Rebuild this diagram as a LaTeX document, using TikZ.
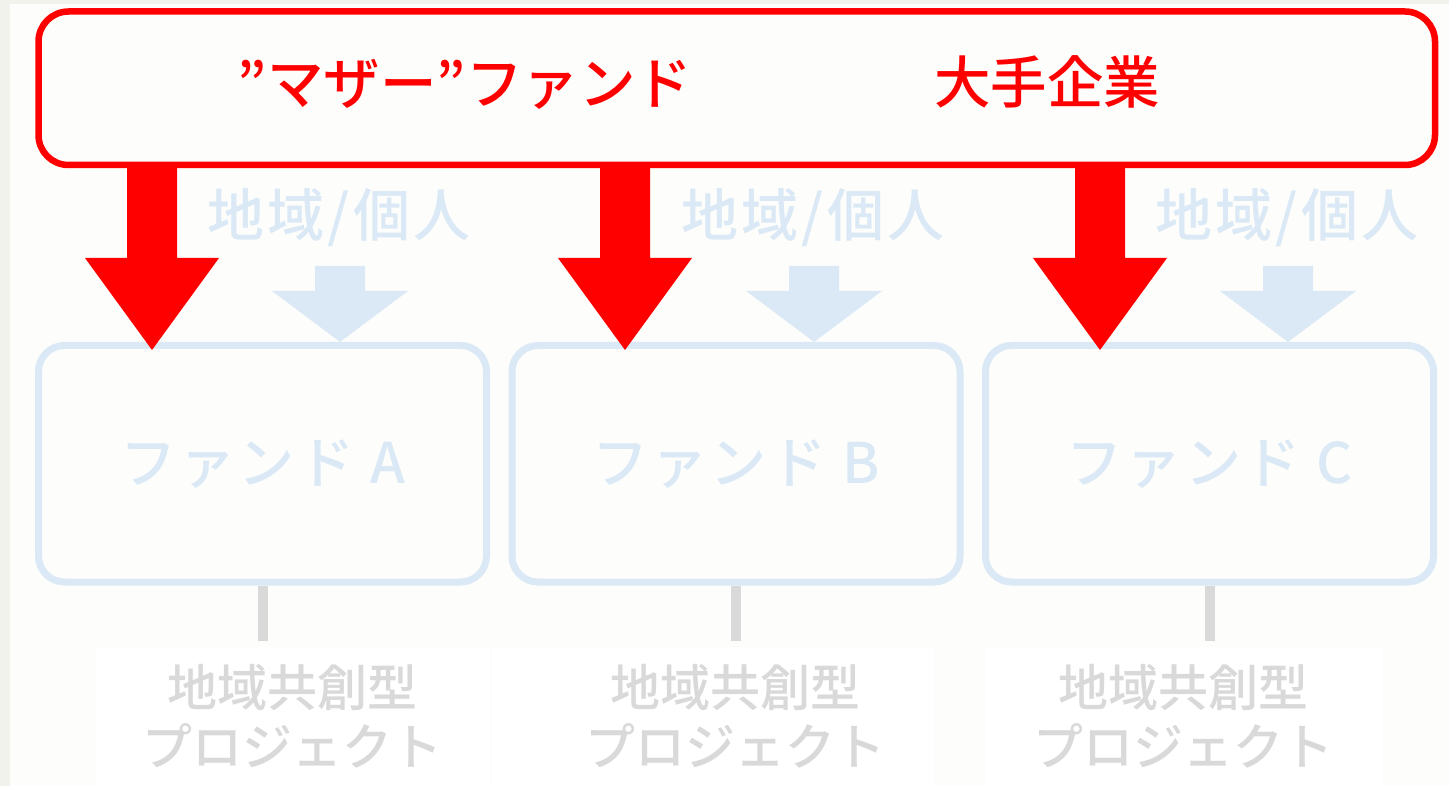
\documentclass[tikz,border=0pt]{standalone}
\usepackage{fontspec}
\setmainfont{Noto Sans CJK JP}[BoldFont={Noto Sans CJK JP Medium}]
\newfontfamily\jpwide{Noto Sans CJK JP}[BoldFont={Noto Sans CJK JP Medium}, LetterSpace=6]
\usetikzlibrary{calc}
\definecolor{mred}{RGB}{255,0,0}
\definecolor{lblue}{RGB}{218,233,245}
\definecolor{lgrey}{RGB}{217,217,217}
\definecolor{outerbg}{RGB}{242,242,236}
\definecolor{panel}{RGB}{253,253,251}
% style, top coordinate, tip coordinate, half shaft, half head, head length
\newcommand\blockdown[6]{%
  \fill[#1] let \p1=(#2), \p2=(#3) in
    (\x2-#4,\y1) -- (\x2+#4,\y1) -- (\x2+#4,\y2+#6) -- (\x2+#5,\y2+#6)
    -- (\x2,\y2) -- (\x2-#5,\y2+#6) -- (\x2-#4,\y2+#6) -- cycle;}
\begin{document}
\begin{tikzpicture}[x=1pt,y=-1pt,
  motherbox/.style={draw=mred, line width=6.5pt, rounded corners=30pt,
    minimum width=1396.5pt, minimum height=153.5pt, fill=panel, inner sep=0pt},
  redtext/.style={text=mred, font=\fontsize{56.5}{60}\selectfont\bfseries, inner sep=0pt},
  fundbox/.style={draw=lblue, line width=7pt, rounded corners=26pt,
    minimum width=448pt, minimum height=236.5pt, inner sep=0pt,
    text=lblue, font=\jpwide\fontsize{56}{60}\selectfont\bfseries},
  regtext/.style={text=lblue, font=\jpwide\fontsize{57}{60}\selectfont\bfseries, inner sep=0pt},
  projbox/.style={fill=white, inner sep=0pt, minimum height=139pt},
  projtext/.style={text=lgrey, font=\fontsize{50}{59}\selectfont\bfseries,
    align=center, inner sep=0pt},
  gline/.style={draw=lgrey, line width=10pt, shorten >=6pt},
  redarrow/.style={fill=mred},
  bluearrow/.style={fill=lblue}]
\useasboundingbox (0,0) rectangle (1449,786);
\fill[outerbg] (0,0) rectangle (1449,786);
\fill[panel] (10,4) rectangle (1449,786);

% mother fund box
\node[motherbox] (mother) at (736.75,88.25) {};
\node[redtext] (mtitle) at (465,84) {”マザー”ファンド};
\node[redtext] (corp) at (1047,82) {大手企業};

% fund boxes
\node[fundbox] (fundA) at (262.5,463.75) {ファンド A};
\node[fundbox] (fundB) at (736,463.75) {ファンド B};
\node[fundbox] (fundC) at (1209.5,463.75) {ファンド C};

% regional / individual labels
\node[regtext] (regA) at (339,218) {地域/個人};
\node[regtext] (regB) at (813,218) {地域/個人};
\node[regtext] (regC) at (1287,218) {地域/個人};

% project boxes
\node[projbox, minimum width=394pt] (projboxA) at (293,716.5) {};
\node[projbox, minimum width=441pt] (projboxB) at (712.5,716.5) {};
\node[projbox, minimum width=397pt] (projboxC) at (1183.5,716.5) {};
\node[projtext] (projA) at (292,716) {地域共創型\\プロジェクト};
\node[projtext] (projB) at (735,716) {地域共創型\\プロジェクト};
\node[projtext] (projC) at (1183,716) {地域共創型\\プロジェクト};

% grey connectors
\draw[gline] (fundA.south) -- (fundA.south |- projboxA.north);
\draw[gline] (fundB.south) -- (fundB.south |- projboxB.north);
\draw[gline] (fundC.south) -- (fundC.south |- projboxC.north);

% blue arrows (region/individual -> fund)
\coordinate (bAtop) at (340,266);
\coordinate (bBtop) at (814,266);
\coordinate (bCtop) at (1288,266);
\blockdown{bluearrow}{bAtop}{fundA.north -| bAtop}{25pt}{68pt}{51pt}
\blockdown{bluearrow}{bBtop}{fundB.north -| bBtop}{25pt}{68pt}{51pt}
\blockdown{bluearrow}{bCtop}{fundC.north -| bCtop}{25pt}{68pt}{51pt}

% red arrows (mother fund -> fund)
\coordinate (rAtip) at (152,350);
\coordinate (rBtip) at (625,350);
\coordinate (rCtip) at (1100,350);
\blockdown{redarrow}{mother.south -| rAtip}{rAtip}{25pt}{67pt}{92pt}
\blockdown{redarrow}{mother.south -| rBtip}{rBtip}{25pt}{67pt}{92pt}
\blockdown{redarrow}{mother.south -| rCtip}{rCtip}{25pt}{67pt}{92pt}
\end{tikzpicture}
\end{document}
